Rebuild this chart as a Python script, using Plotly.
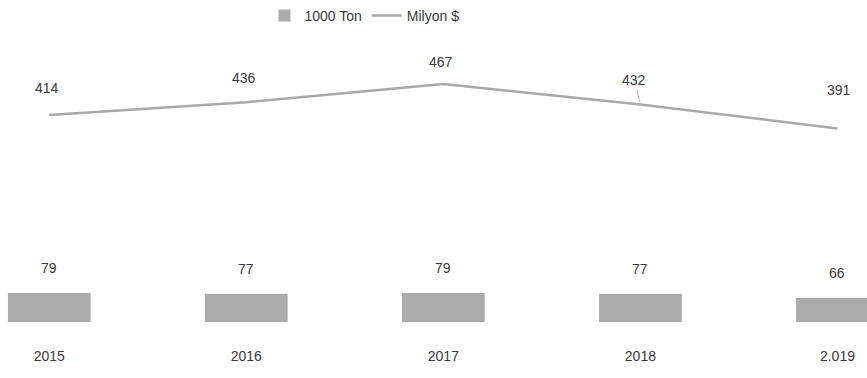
import plotly.graph_objects as go

years = ["2015", "2016", "2017", "2018", "2.019"]
ton_1000 = [79, 77, 79, 77, 66]
milyon_usd = [414, 436, 467, 432, 391]

bar_color = "#ababab"
line_color = "#a8a8a8"
text_color = "#3a3a3a"
font_family = "Liberation Sans, Arial, sans-serif"

fig = go.Figure()
fig.add_trace(go.Bar(
    x=list(range(len(years))), y=ton_1000, name="1000 Ton",
    marker=dict(color=bar_color, line=dict(width=0)),
    width=0.42, yaxis="y2",
))
fig.add_trace(go.Scatter(
    x=list(range(len(years))), y=milyon_usd, name="Milyon $",
    mode="lines", line=dict(color=line_color, width=2.5),
    yaxis="y",
))

# bar value labels
for i, v in enumerate(ton_1000):
    fig.add_annotation(x=i, y=v, yref="y2", text=str(v), showarrow=False,
                       yshift=25, font=dict(size=14, color=text_color, family=font_family))

# line value labels (manually placed offsets like the original)
line_shifts = [27, 24, 22, 24, 38]
line_xshifts = [-2, -2, -2, -10, 2]
for i, v in enumerate(milyon_usd):
    if i == 3:
        fig.add_annotation(x=i, y=v, yref="y", text=str(v), showarrow=True,
                           ax=-6, ay=-24, arrowhead=0, arrowwidth=1,
                           arrowcolor="#bbbbbb", standoff=0,
                           font=dict(size=14, color=text_color, family=font_family))
    else:
        fig.add_annotation(x=i, y=v, yref="y", text=str(v), showarrow=False,
                           yshift=line_shifts[i], xshift=line_xshifts[i],
                           font=dict(size=14, color=text_color, family=font_family))

fig.update_layout(
    width=867, height=378,
    margin=dict(l=0, r=0, t=0, b=32),
    paper_bgcolor="white", plot_bgcolor="white",
    font=dict(family=font_family, size=14, color=text_color),
    showlegend=True,
    legend=dict(orientation="h", x=0.305, xanchor="left", y=1.0, yanchor="top",
                font=dict(size=14, color=text_color), bgcolor="rgba(0,0,0,0)"),
    xaxis=dict(range=[-0.25, 4.15], tickmode="array",
               tickvals=list(range(len(years))), ticktext=years,
               showgrid=False, zeroline=False, showline=False, ticks=""),
    yaxis=dict(range=[19.1, 610.6], visible=False, showgrid=False),
    yaxis2=dict(range=[-65.4, 877.4], overlaying="y", visible=False, showgrid=False),
    bargap=0.58,
)

fig.write_html("out.html",
               config={"displayModeBar": False},
               post_script="document.body.style.margin='0px';document.body.style.overflow='hidden';")
